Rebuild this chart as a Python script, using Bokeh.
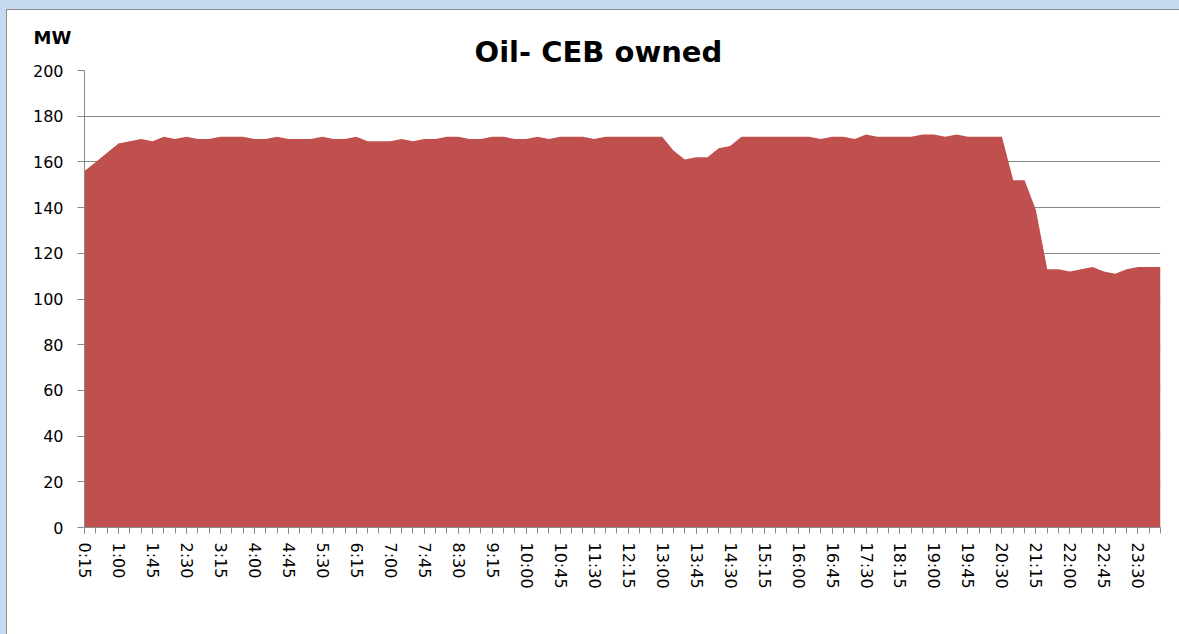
from bokeh.plotting import figure
from bokeh.models import Range1d, FixedTicker, Label, ColumnDataSource
from bokeh.embed import file_html
from bokeh.resources import INLINE

times = ["0:15", "0:30", "0:45", "1:00", "1:15", "1:30", "1:45", "2:00",
         "2:15", "2:30", "2:45", "3:00", "3:15", "3:30", "3:45", "4:00",
         "4:15", "4:30", "4:45", "5:00", "5:15", "5:30", "5:45", "6:00",
         "6:15", "6:30", "6:45", "7:00", "7:15", "7:30", "7:45", "8:00",
         "8:15", "8:30", "8:45", "9:00", "9:15", "9:30", "9:45", "10:00",
         "10:15", "10:30", "10:45", "11:00", "11:15", "11:30", "11:45", "12:00",
         "12:15", "12:30", "12:45", "13:00", "13:15", "13:30", "13:45", "14:00",
         "14:15", "14:30", "14:45", "15:00", "15:15", "15:30", "15:45", "16:00",
         "16:15", "16:30", "16:45", "17:00", "17:15", "17:30", "17:45", "18:00",
         "18:15", "18:30", "18:45", "19:00", "19:15", "19:30", "19:45", "20:00",
         "20:15", "20:30", "20:45", "21:00", "21:15", "21:30", "21:45", "22:00",
         "22:15", "22:30", "22:45", "23:00", "23:15", "23:30", "23:45", "24:00"]

oil_mw = [156, 160, 164, 168, 169, 170, 169, 171, 170, 171,
          170, 170, 171, 171, 171, 170, 170, 171, 170, 170,
          170, 171, 170, 170, 171, 169, 169, 169, 170, 169,
          170, 170, 171, 171, 170, 170, 171, 171, 170, 170,
          171, 170, 171, 171, 171, 170, 171, 171, 171, 171,
          171, 171, 165, 161, 162, 162, 166, 167, 171, 171,
          171, 171, 171, 171, 171, 170, 171, 171, 170, 172,
          171, 171, 171, 171, 172, 172, 171, 172, 171, 171,
          171, 171, 152, 152, 139, 113, 113, 112, 113, 114,
          112, 111, 113, 114, 114, 114]

y_ticks = [0, 20, 40, 60, 80, 100, 120, 140, 160, 180, 200]
label_every = 3
title_text = "Oil- CEB owned"
unit_text = "MW"

x_idx = list(range(len(times)))
src = ColumnDataSource(dict(x=x_idx, y=oil_mw))

p = figure(width=1179, height=634, output_backend="svg", toolbar_location=None,
           x_range=Range1d(0, len(times) - 1), y_range=Range1d(0, 200),
           min_border_left=84, min_border_right=19, min_border_top=70,
           min_border_bottom=107)
p.styles = {"background": "white",
            "box-shadow": "inset 6px 9px 0 0 #c6d9f1, inset 7px 10px 0 0 #8e8e8e"}
p.outline_line_color = None
p.background_fill_color = "white"
p.border_fill_color = None

p.title.text = title_text
p.title.align = "left"
p.title.offset = 390
p.title.standoff = 4
p.title.text_font = "DejaVu Sans"
p.title.text_font_style = "bold"
p.title.text_font_size = "29px"
p.title.text_color = "black"

p.varea(x="x", y1=0, y2="y", source=src, fill_color="#C0504D")

grid_col = "#898989"
# y axis
p.yaxis.ticker = FixedTicker(ticks=y_ticks)
p.yaxis.axis_line_color = grid_col
p.yaxis.major_tick_line_color = grid_col
p.yaxis.major_tick_out = 7
p.yaxis.major_tick_in = 0
p.yaxis.minor_tick_line_color = None
p.yaxis.major_label_standoff = 14
p.yaxis.major_label_text_font = "DejaVu Sans"
p.yaxis.major_label_text_font_size = "16px"
p.yaxis.major_label_text_color = "black"

# x axis
major = list(range(0, len(times), label_every))
p.xaxis.ticker = FixedTicker(ticks=major, minor_ticks=x_idx)
p.xaxis.major_label_overrides = {i: times[i] for i in major}
p.xaxis.major_label_orientation = "vertical"
p.xaxis.axis_line_color = grid_col
p.xaxis.major_tick_line_color = grid_col
p.xaxis.minor_tick_line_color = grid_col
p.xaxis.major_tick_out = 6
p.xaxis.major_tick_in = 0
p.xaxis.minor_tick_out = 6
p.xaxis.minor_tick_in = 0
p.xaxis.major_label_standoff = 9
p.xaxis.major_label_text_font = "DejaVu Sans"
p.xaxis.major_label_text_font_size = "16px"
p.xaxis.major_label_text_color = "black"

p.xgrid.grid_line_color = None
p.ygrid.ticker = FixedTicker(ticks=y_ticks[1:])
p.ygrid.grid_line_color = grid_col
p.ygrid.grid_line_width = 1

p.add_layout(Label(x=-51, y=575, x_units="screen", y_units="screen",
                   text=unit_text, text_font="DejaVu Sans",
                   text_font_style="bold", text_font_size="18px",
                   text_align="left", text_baseline="middle", text_color="black"),
             "below")

open("out.html", "w").write(file_html(p, INLINE))
